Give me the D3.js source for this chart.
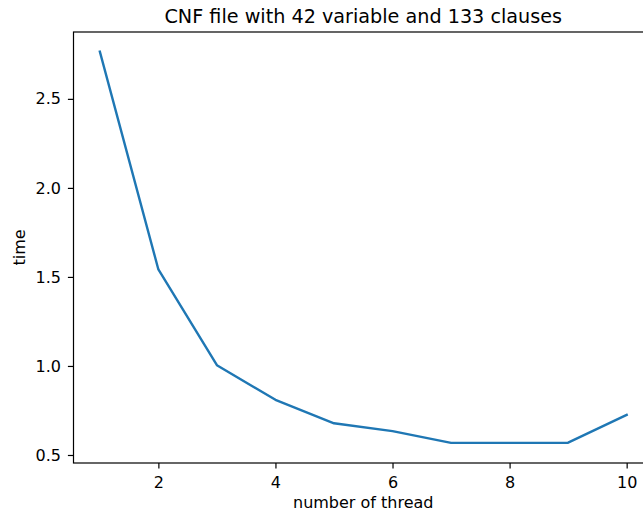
<!DOCTYPE html>
<html><head><meta charset="utf-8">
<script src="https://cdn.jsdelivr.net/npm/d3@7"></script>
<style>body{margin:0;background:#fff;overflow:hidden}svg{display:block;font-family:"DejaVu Sans",sans-serif}</style>
</head><body>
<script>
const threads = [1,2,3,4,5,6,7,8,9,10];
const times = [2.765,1.542,1.004,0.810,0.678,0.634,0.568,0.568,0.569,0.725];
const xTicks = [2,4,6,8,10];
const yTicks = [0.5,1.0,1.5,2.0,2.5];
const titleText = "CNF file with 42 variable and 133 clauses";
const xLabel = "number of thread";
const yLabel = "time";

const W = 643, H = 511;
const L = 73.5, R = 653, T = 32, B = 463;
const svg = d3.select("body").append("svg").attr("width", W).attr("height", H);
const x = d3.scaleLinear().domain([0.55, 10.45]).range([L, R]);
const y = d3.scaleLinear().domain([0.455, 2.8755]).range([B, T]);

const line = d3.line().x((d,i)=>x(threads[i])).y(d=>y(d));
svg.append("path").datum(times).attr("d", line)
  .attr("fill","none").attr("stroke","#1f77b4").attr("stroke-width",2.4)
  .attr("stroke-linejoin","round").attr("stroke-linecap","square");

svg.append("rect").attr("x",L).attr("y",T).attr("width",R-L).attr("height",B-T)
  .attr("fill","none").attr("stroke","#000").attr("stroke-width",1.2);

const xa = svg.append("g").attr("transform",`translate(0,${B})`)
  .call(d3.axisBottom(x).tickValues(xTicks).tickFormat(d3.format("d")).tickSize(5.6).tickPadding(8));
const ya = svg.append("g").attr("transform",`translate(${L},0)`)
  .call(d3.axisLeft(y).tickValues(yTicks).tickFormat(d3.format(".1f")).tickSize(5.6).tickPadding(7));
[xa,ya].forEach(a=>{
  a.select(".domain").remove();
  a.selectAll(".tick line").attr("stroke","#000").attr("stroke-width",1.2);
  a.selectAll("text").attr("font-size",16).attr("fill","#000").attr("font-family","DejaVu Sans");
});

svg.append("text").attr("x",(L+R)/2).attr("y",23).attr("text-anchor","middle")
  .attr("font-size",19.2).attr("fill","#000").text(titleText);
svg.append("text").attr("x",(L+R)/2).attr("y",508).attr("text-anchor","middle")
  .attr("font-size",16).attr("fill","#000").text(xLabel);
svg.append("text").attr("transform",`translate(24.5,${(T+B)/2}) rotate(-90)`).attr("text-anchor","middle")
  .attr("font-size",16).attr("fill","#000").text(yLabel);
</script>
</body></html>
